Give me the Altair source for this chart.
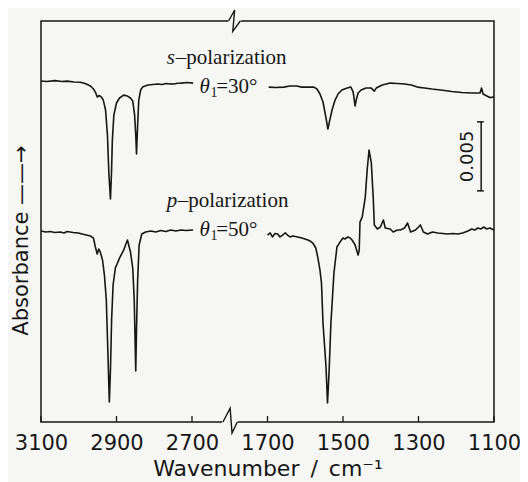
import altair as alt
import pandas as pd

# ---------------- data ----------------
# absorbance in units of 1e-3 (scale bar = 0.005 = 5 units), arbitrary offsets
s_left_wn = [3100, 3085, 3063, 3045, 3031, 3012, 2996, 2985, 2980, 2969,
             2961, 2956, 2951, 2945, 2940, 2935, 2929, 2924, 2920, 2916,
             2913, 2911, 2907, 2900, 2892, 2881, 2871, 2863, 2857, 2852,
             2849, 2847, 2844, 2841, 2836, 2831, 2817, 2804, 2791, 2780,
             2769, 2758, 2748, 2738, 2729, 2713, 2697]
s_left_abs = [24.71, 24.67, 24.74, 24.68, 24.70, 24.64, 24.62, 24.55, 24.49, 24.35,
              24.13, 23.91, 23.55, 23.66, 23.55, 23.33, 22.61, 20.80, 17.90, 16.16,
              18.26, 20.43, 22.25, 23.12, 23.48, 23.69, 23.62, 23.48, 23.26, 22.25,
              20.80, 19.42, 21.52, 23.33, 24.06, 24.27, 24.42, 24.46, 24.49, 24.46,
              24.53, 24.50, 24.49, 24.55, 24.56, 24.60, 24.56]

s_right_wn = [1697, 1679, 1657, 1641, 1623, 1609, 1596, 1577, 1569, 1561,
              1553, 1545, 1540, 1535, 1529, 1521, 1513, 1503, 1489, 1479,
              1473, 1468, 1465, 1460, 1452, 1439, 1425, 1417, 1412, 1396,
              1375, 1356, 1337, 1319, 1303, 1284, 1265, 1241, 1212, 1185,
              1159, 1137, 1133, 1129, 1119, 1111, 1100]
s_right_abs = [24.27, 24.24, 24.27, 24.35, 24.35, 24.27, 24.27, 24.27, 24.13, 23.77,
               23.19, 22.03, 21.23, 21.88, 22.61, 23.33, 23.77, 24.06, 24.20, 24.27,
               23.91, 22.90, 23.33, 23.84, 24.06, 24.20, 24.20, 23.98, 24.20, 24.42,
               24.56, 24.53, 24.49, 24.42, 24.27, 24.20, 24.13, 24.06, 23.95, 23.88,
               23.84, 23.84, 24.20, 23.77, 23.62, 23.51, 23.55]

p_left_wn = [3100, 3087, 3076, 3063, 3049, 3039, 3031, 3015, 3001, 2991,
             2980, 2969, 2961, 2956, 2951, 2947, 2943, 2937, 2932, 2927,
             2923, 2919, 2916, 2913, 2909, 2903, 2892, 2881, 2871, 2863,
             2857, 2853, 2849, 2847, 2844, 2840, 2833, 2823, 2809, 2796,
             2783, 2769, 2756, 2743, 2729, 2716, 2697]
p_left_abs = [13.84, 13.77, 13.80, 13.73, 13.77, 13.70, 13.80, 13.73, 13.70, 13.62,
              13.55, 13.48, 13.33, 12.68, 12.17, 12.54, 12.32, 11.74, 10.65, 8.84,
              5.22, 1.45, 3.77, 7.39, 9.93, 11.16, 11.88, 12.46, 13.19, 12.32,
              11.16, 8.84, 3.70, 6.67, 10.29, 12.83, 13.62, 13.77, 13.84, 13.77,
              13.88, 13.80, 13.91, 13.84, 13.91, 13.88, 13.91]

p_right_wn = [1700, 1693, 1687, 1680, 1673, 1667, 1660, 1653, 1647, 1640,
              1633, 1620, 1609, 1601, 1593, 1585, 1580, 1572, 1567, 1561,
              1557, 1553, 1545, 1541, 1537, 1532, 1524, 1516, 1508, 1500,
              1495, 1487, 1481, 1476, 1468, 1460, 1457, 1455, 1449, 1441,
              1436, 1431, 1425, 1420, 1417, 1409, 1401, 1393, 1388, 1375,
              1367, 1356, 1348, 1337, 1329, 1321, 1308, 1300, 1295, 1287,
              1276, 1263, 1249, 1236, 1223, 1209, 1196, 1183, 1169, 1159,
              1151, 1143, 1135, 1127, 1119, 1111, 1100]
p_right_abs = [13.55, 13.70, 13.41, 13.66, 13.62, 13.41, 13.55, 13.70, 13.55, 13.41,
               13.48, 13.41, 13.33, 13.26, 13.19, 13.08, 12.97, 12.61, 11.96, 11.01,
               10.07, 7.17, 3.99, 1.38, 3.55, 7.17, 10.80, 12.68, 13.04, 13.33,
               13.26, 13.41, 13.33, 13.19, 12.83, 12.10, 12.46, 14.49, 14.86, 16.30,
               18.26, 19.71, 18.77, 16.30, 14.28, 13.99, 14.13, 14.64, 14.06, 13.99,
               13.77, 13.91, 13.91, 14.06, 14.42, 13.77, 13.91, 14.13, 14.28, 13.77,
               13.62, 13.77, 13.70, 13.66, 13.62, 13.66, 13.62, 13.70, 13.84, 13.99,
               13.91, 14.06, 13.99, 14.13, 13.99, 14.06, 13.91]

tick_wn = [3100, 2900, 2700, 1700, 1500, 1300, 1100]

# annotations (wavenumber, absorbance baseline)
italic_txt = ["s", "p", "θ", "θ"]
italic_wn = [2767, 2767, 2680, 2680]
italic_abs = [25.94, 15.58, 23.84, 13.48]
plain_txt = ["–polarization", "–polarization", "=30°", "=50°"]
plain_wn = [2743, 2738, 2636, 2636]
plain_abs = [25.94, 15.58, 23.84, 13.48]
sub_txt = ["1", "1"]
sub_wn = [2651, 2651]
sub_abs = [23.55, 13.19]

scalebar_wn = 1134
scalebar_lo, scalebar_hi = 16.75, 21.75
scalebar_label = "0.005"

# ---------------- styling ----------------
BG = "#f6f6f4"
INK = "#161616"
Y_MAX = 29.06
D_EXPR = "datum.w >= 2200 ? 3100 - datum.w : 2300 - datum.w"
LABEL_EXPR = ("datum.value <= 500 ? format(3100 - datum.value, 'd') "
              ": format(2300 - datum.value, 'd')")


def to_d(w):
    return 3100 - w if w >= 2200 else 2300 - w


frames = []
for name, wn, ab in [("s_left", s_left_wn, s_left_abs), ("s_right", s_right_wn, s_right_abs),
                     ("p_left", p_left_wn, p_left_abs), ("p_right", p_right_wn, p_right_abs)]:
    assert len(wn) == len(ab)
    frames.append(pd.DataFrame({"w": wn, "A": ab, "key": name}))
spec_df = pd.concat(frames, ignore_index=True)

x_axis = alt.Axis(values=[to_d(w) for w in tick_wn], labelExpr=LABEL_EXPR,
                  ticks=False, tickSize=0, domain=False, grid=False,
                  labelFont="DejaVu Sans", labelFontSize=21, labelColor=INK,
                  labelPadding=10, labelFlush=False, labelOverlap=False,
                  title="Wavenumber\u2002/\u2002cm⁻¹", titleFont="DejaVu Sans",
                  titleFontSize=22, titleFontWeight="normal", titleColor=INK,
                  titlePadding=5)
y_axis = alt.Axis(labels=False, ticks=False, domain=False, grid=False,
                  title="Absorbance ——→", titleFont="DejaVu Sans", titleFontSize=21,
                  titleFontWeight="normal", titleColor=INK, titleAngle=270,
                  titleAlign="center", titleBaseline="alphabetic",
                  titleX=-14, titleY=219)

X = alt.X("d:Q", scale=alt.Scale(domain=[0, 1200], nice=False, zero=False), axis=x_axis)
Y = alt.Y("A:Q", scale=alt.Scale(domain=[0, Y_MAX], nice=False, zero=False), axis=y_axis)

lines = alt.Chart(spec_df).transform_calculate(d=D_EXPR).mark_line(
    color=INK, strokeWidth=1.6, strokeJoin="round").encode(x=X, y=Y, detail="key:N")

tick_df = pd.DataFrame({"w": tick_wn, "A": [0.0] * len(tick_wn), "A2": [0.43] * len(tick_wn)})
ticks = alt.Chart(tick_df).transform_calculate(d=D_EXPR).mark_rule(
    color=INK, strokeWidth=1.3).encode(x=X, y=Y, y2="A2:Q")

sb_df = pd.DataFrame({"w": [scalebar_wn], "A": [scalebar_lo], "A2": [scalebar_hi]})
sbar = alt.Chart(sb_df).transform_calculate(d=D_EXPR).mark_rule(
    color=INK, strokeWidth=1.5).encode(x=X, y=Y, y2="A2:Q")
cap_df = pd.DataFrame({"w": [scalebar_wn + 11, scalebar_wn + 11],
                       "w2": [scalebar_wn - 7, scalebar_wn - 7],
                       "A": [scalebar_lo, scalebar_hi]})
caps = alt.Chart(cap_df).transform_calculate(
    d=D_EXPR, d2="datum.w2 >= 2200 ? 3100 - datum.w2 : 2300 - datum.w2").mark_rule(
    color=INK, strokeWidth=1.5).encode(x=X, x2="d2:Q", y=Y)
sb_lab_df = pd.DataFrame({"w": [scalebar_wn + 35], "A": [(scalebar_lo + scalebar_hi) / 2],
                          "t": [scalebar_label]})
sb_lab = alt.Chart(sb_lab_df).transform_calculate(d=D_EXPR).mark_text(
    angle=270, align="center", baseline="middle", font="DejaVu Sans", fontSize=18,
    color=INK).encode(x=X, y=Y, text="t:N")

it_df = pd.DataFrame({"w": italic_wn, "A": italic_abs, "t": italic_txt})
pl_df = pd.DataFrame({"w": plain_wn, "A": plain_abs, "t": plain_txt})
sub_df = pd.DataFrame({"w": sub_wn, "A": sub_abs, "t": sub_txt})
t_it = alt.Chart(it_df).transform_calculate(d=D_EXPR).mark_text(
    align="left", baseline="alphabetic", font="Liberation Serif", fontStyle="italic",
    fontSize=21, color=INK).encode(x=X, y=Y, text="t:N")
t_pl = alt.Chart(pl_df).transform_calculate(d=D_EXPR).mark_text(
    align="left", baseline="alphabetic", font="Liberation Serif",
    fontSize=21, color=INK).encode(x=X, y=Y, text="t:N")
t_sub = alt.Chart(sub_df).transform_calculate(d=D_EXPR).mark_text(
    align="left", baseline="alphabetic", font="Liberation Serif",
    fontSize=14, color=INK).encode(x=X, y=Y, text="t:N")

# axis break decoration
cover_df = pd.DataFrame({"d": [480, 496], "d2": [521, 529], "A": [0.0, Y_MAX]})
cover = alt.Chart(cover_df).mark_rule(color=BG, strokeWidth=4).encode(
    x=X, x2="d2:Q", y=Y)
zz_df = pd.DataFrame({
    "d": [482, 501, 506, 520, 497, 513, 508, 528],
    "A": [0.0, 1.0, -0.8, 0.0, Y_MAX, Y_MAX + 0.8, Y_MAX - 0.75, Y_MAX],
    "k": ["b"] * 4 + ["t"] * 4,
    "i": [0, 1, 2, 3, 0, 1, 2, 3],
})
zz = alt.Chart(zz_df).mark_line(color=INK, strokeWidth=1.4).encode(
    x=X, y=Y, detail="k:N", order="i:Q")

chart = alt.layer(lines, ticks, sbar, caps, sb_lab, t_it, t_pl, t_sub, cover, zz).properties(
    width=453, height=401,
    autosize=alt.AutoSizeParams(type="none"),
    padding={"left": 33, "top": 13, "right": 26, "bottom": 60},
    background=BG,
).configure_view(stroke=INK, strokeWidth=1.5)

chart.save("out.html", embed_options={"renderer": "svg", "actions": False})
